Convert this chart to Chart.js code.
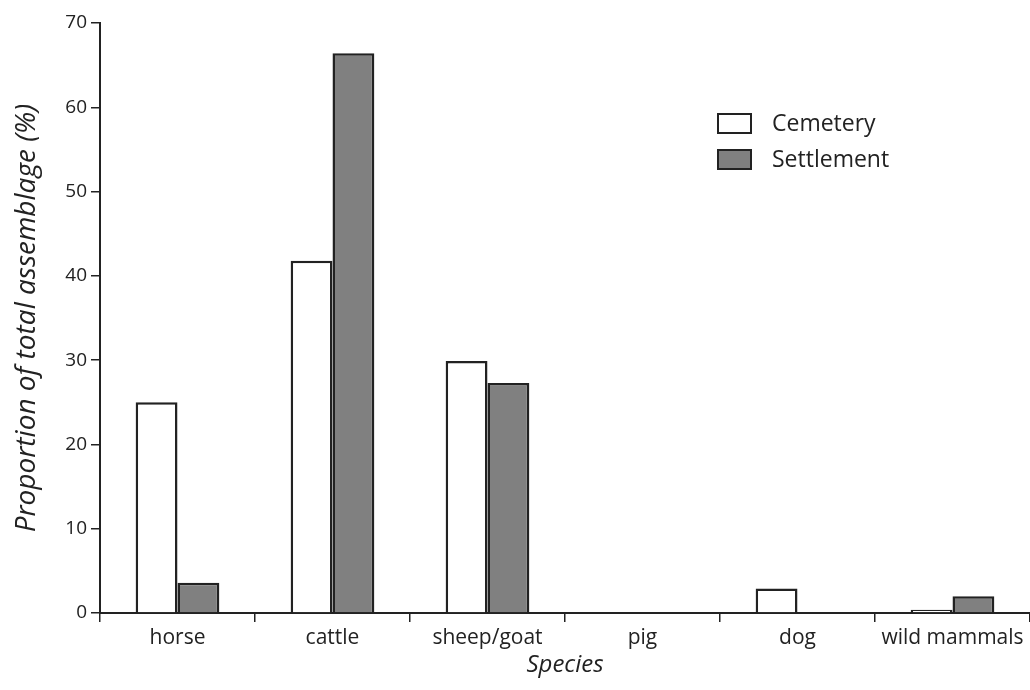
<!DOCTYPE html>
<html>
<head>
<meta charset="utf-8">
<script src="https://cdn.jsdelivr.net/npm/chart.js@4"></script>
<style>
  html, body { margin: 0; padding: 0; background: #fff; }
  #wrap { width: 1030px; height: 690px; }
</style>
</head>
<body>
<div id="wrap"><canvas id="chart" width="1030" height="690"></canvas></div>
<script>
// --- chart data ---
const species = ['horse', 'cattle', 'sheep/goat', 'pig', 'dog', 'wild mammals'];
const cemetery = [25.0, 41.8, 29.9, 0, 2.9, 0.4];
const settlement = [3.6, 66.4, 27.3, 0, 0, 2.0];
const yTicks = [0, 10, 20, 30, 40, 50, 60, 70];

const ink = '#222';

// legend drawn inside the plot area, top right
const boxLegend = {
    id: 'boxLegend',
    afterDraw(chart) {
        const ctx = chart.ctx;
        const x = 717, y0 = 113, gap = 36;
        ctx.save();
        ctx.font = '23px "Open Sans"';
        ctx.textBaseline = 'middle';
        chart.data.datasets.forEach((ds, i) => {
            const y = y0 + i * gap;
            ctx.fillStyle = ds.backgroundColor;
            ctx.fillRect(x, y, 35, 21);
            ctx.lineWidth = 2;
            ctx.strokeStyle = ink;
            ctx.strokeRect(x + 1, y + 1, 33, 19);
            ctx.fillStyle = ink;
            ctx.fillText(ds.label, x + 55, y + 11);
        });
        ctx.restore();
    }
};

const ctx = document.getElementById('chart').getContext('2d');
new Chart(ctx, {
    type: 'bar',
    data: {
        labels: species,
        datasets: [{
            label: 'Cemetery',
            data: cemetery,
            backgroundColor: '#ffffff',
            borderColor: ink,
            borderWidth: 2.5,
            borderSkipped: 'start'
        }, {
            label: 'Settlement',
            data: settlement,
            backgroundColor: '#808080',
            borderColor: ink,
            borderWidth: 2.5,
            borderSkipped: 'start'
        }]
    },
    options: {
        responsive: false,
        animation: false,
        layout: { padding: { top: 23, right: 0, left: 0, bottom: 0 } },
        datasets: { bar: { categoryPercentage: 0.54, barPercentage: 1.0 } },
        plugins: {
            legend: { display: false },
            tooltip: { enabled: false }
        },
        scales: {
            x: {
                grid: { offset: true, drawOnChartArea: false, drawTicks: true, tickLength: 9, color: ink, lineWidth: 1.5 },
                border: { display: true, color: ink, width: 2 },
                ticks: { color: ink, font: { family: 'Open Sans', size: 21 }, padding: 3, maxRotation: 0, autoSkip: false },
                title: { display: true, text: 'Species', color: ink, font: { family: 'Open Sans', size: 24, style: 'italic' }, padding: { top: 0, bottom: 10 } },
                afterFit(scale) { scale.height = 77; }
            },
            y: {
                min: 0,
                max: 70,
                afterBuildTicks(scale) { scale.ticks = yTicks.map(v => ({ value: v })); },
                grid: { drawOnChartArea: false, drawTicks: true, tickLength: 9, color: ink, lineWidth: 1.5 },
                border: { display: true, color: ink, width: 2 },
                ticks: { color: ink, font: { family: 'Open Sans', size: 19 }, padding: 4 },
                title: { display: true, text: 'Proportion of total assemblage (%)', color: ink, font: { family: 'Open Sans', size: 28, style: 'italic' }, padding: { top: 10, bottom: 0 } },
                afterFit(scale) { scale.width = 100; }
            }
        }
    },
    plugins: [boxLegend]
});
</script>
</body>
</html>
